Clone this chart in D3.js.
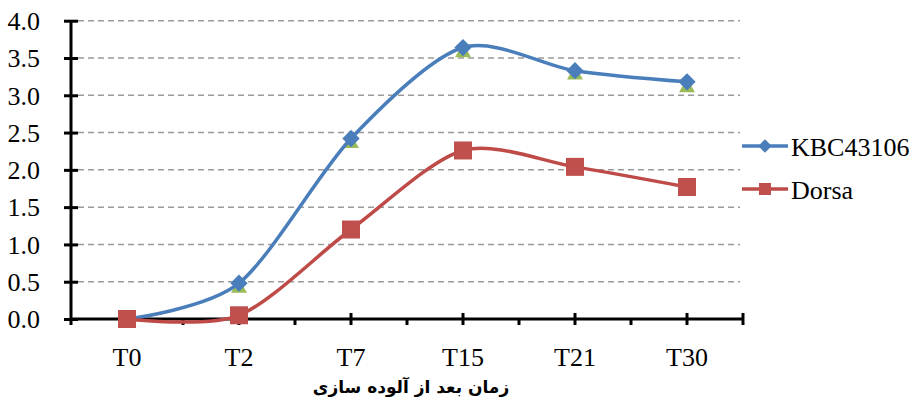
<!DOCTYPE html>
<html lang="en">
<head>
  <meta charset="UTF-8">
  <title>Line Chart</title>
  <script src="https://d3js.org/d3.v7.min.js"></script>
  <style>
    body { margin: 0; background: #fff; }
  </style>
</head>
<body>
  <div class="main"></div>
<script>
  // data
  var categories = ["T0", "T2", "T7", "T15", "T21", "T30"];
  var kbcValues = [0, 0.48, 2.42, 3.64, 3.33, 3.18];
  var dorsaValues = [0, 0.05, 1.20, 2.26, 2.04, 1.77];
  var hiddenValues = [0, 0.44, 2.38, 3.60, 3.30, 3.13];
  var yTicks = [0, 0.5, 1, 1.5, 2, 2.5, 3, 3.5, 4];
  var seriesNames = ["KBC43106", "Dorsa"];
  var axisTitle = "زمان بعد از آلوده سازی";

  let serif = "'Liberation Serif', 'Times New Roman', serif";
  let width = 917;
  let height = 403;
  let svg = d3.select(".main").append("svg").attr("width", width).attr("height", height).style("display", "block");

  let x = d3.scaleBand().domain(categories).range([71, 743]);
  let y = d3.scaleLinear().domain([0, 4]).range([319, 20.7]);
  let cx = function(d) { return x(d) + x.bandwidth() / 2; };

  // dashed grid lines
  svg.append("g").selectAll("line").data(yTicks.slice(1)).join("line")
    .attr("x1", 78).attr("x2", 740)
    .attr("y1", d => y(d)).attr("y2", d => y(d))
    .style("stroke", "#9a9a9a").style("stroke-width", 1.5).style("stroke-dasharray", "6,4");

  // y axis
  let yAxis = svg.append("g").attr("transform", "translate(71,0)")
    .call(d3.axisLeft(y).tickValues(yTicks).tickFormat(d3.format(".1f")).tickSize(7).tickPadding(24));
  yAxis.select(".domain").attr("d", "M0," + y(4) + "V" + y(0)).style("stroke", "#000").style("stroke-width", 3);
  yAxis.selectAll(".tick line").attr("x1", -7).attr("x2", 7).style("stroke", "#000").style("stroke-width", 3);
  yAxis.selectAll(".tick text").style("font-family", serif).style("font-size", "26px").style("fill", "#000").attr("dy", "0.34em");

  // x axis
  let xAxis = svg.append("g").attr("transform", "translate(0," + y(0) + ")")
    .call(d3.axisBottom(x).tickSize(6).tickPadding(24));
  xAxis.select(".domain").attr("d", "M71,0H743").style("stroke", "#000").style("stroke-width", 3);
  xAxis.selectAll(".tick line").attr("y1", -6).attr("y2", 6).style("stroke", "#000").style("stroke-width", 3);
  xAxis.selectAll(".tick text").style("font-family", serif).style("font-size", "26px").style("fill", "#000").attr("dy", "0.65em");
  // minor ticks at band edges
  xAxis.append("g").selectAll("line").data(categories).join("line")
    .attr("x1", d => x(d)).attr("x2", d => x(d)).attr("y1", 0).attr("y2", 6)
    .style("stroke", "#000").style("stroke-width", 3);
  xAxis.append("line").attr("x1", 743).attr("x2", 743).attr("y1", -6).attr("y2", 6)
    .style("stroke", "#000").style("stroke-width", 3);

  // axis title
  svg.append("text").attr("x", 411).attr("y", 393).attr("text-anchor", "middle")
    .attr("direction", "rtl")
    .style("font-family", "'DejaVu Sans', sans-serif").style("font-weight", "bold").style("font-size", "17px")
    .text(axisTitle);

  let line = d3.line().x((d, i) => cx(categories[i])).y(d => y(d)).curve(d3.curveCardinal.tension(0.15));
  let diamond = d3.symbol(d3.symbolSquare, 150);
  let square = d3.symbol(d3.symbolSquare, 324);
  let triangle = d3.symbol(d3.symbolTriangle, 110);

  // hidden third series (triangles only)
  svg.append("g").selectAll("path").data(hiddenValues).join("path")
    .attr("d", triangle)
    .attr("transform", (d, i) => "translate(" + cx(categories[i]) + "," + (y(d) + 2) + ")")
    .style("fill", "#9BBB59");

  svg.append("path").datum(kbcValues).attr("d", line)
    .style("fill", "none").style("stroke", "#4A7EBB").style("stroke-width", 3.5);
  svg.append("path").datum(dorsaValues).attr("d", line)
    .style("fill", "none").style("stroke", "#BE4B48").style("stroke-width", 3.5);

  svg.append("g").selectAll("path").data(kbcValues).join("path")
    .attr("d", diamond)
    .attr("transform", (d, i) => "translate(" + cx(categories[i]) + "," + y(d) + ") rotate(45)")
    .style("fill", "#4A7EBB");
  svg.append("g").selectAll("path").data(dorsaValues).join("path")
    .attr("d", square)
    .attr("transform", (d, i) => "translate(" + cx(categories[i]) + "," + y(d) + ")")
    .style("fill", "#C0504D");

  // legend
  let legendY = [146, 189];
  let legendColors = ["#4A7EBB", "#BE4B48"];
  let legend = svg.append("g");
  legend.selectAll("line").data(seriesNames).join("line")
    .attr("x1", 742).attr("x2", 788)
    .attr("y1", (d, i) => legendY[i]).attr("y2", (d, i) => legendY[i])
    .style("stroke", (d, i) => legendColors[i]).style("stroke-width", 3.5);
  legend.append("path").attr("d", d3.symbol(d3.symbolSquare, 90))
    .attr("transform", "translate(765," + legendY[0] + ") rotate(45)").style("fill", "#4A7EBB");
  legend.append("path").attr("d", d3.symbol(d3.symbolSquare, 144))
    .attr("transform", "translate(765," + legendY[1] + ")").style("fill", "#C0504D");
  legend.selectAll("text").data(seriesNames).join("text")
    .attr("x", 791).attr("y", (d, i) => legendY[i]).attr("dy", "0.38em")
    .style("font-family", serif).style("font-size", "26px").style("fill", "#000")
    .text(d => d);
</script>
</body>
</html>
